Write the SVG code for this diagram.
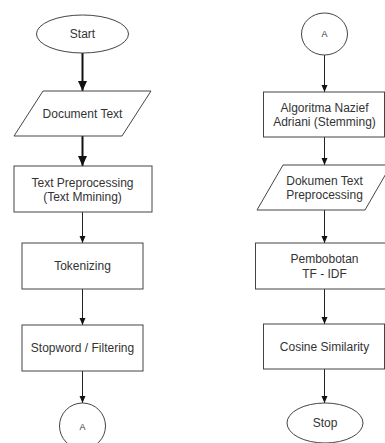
<svg xmlns="http://www.w3.org/2000/svg" width="385" height="443" viewBox="0 0 385 443">
<style>
.s{fill:#fff;stroke:#444;stroke-width:1}
.t{font-family:"Liberation Sans",Arial,sans-serif;font-size:12px;fill:#333;text-anchor:middle;dominant-baseline:central}
.a{font-size:9px}
.c{stroke:#222;stroke-width:1;fill:none}
.ck{stroke:#111;stroke-width:2;fill:none}
</style>
<defs>
<marker id="m" markerUnits="userSpaceOnUse" markerWidth="8" markerHeight="8" refX="7" refY="4" orient="auto">
<path d="M0,1 L7,4 L0,7 z" fill="#111"/>
</marker>
<marker id="mk" markerUnits="userSpaceOnUse" markerWidth="11" markerHeight="11" refX="10" refY="5.5" orient="auto">
<path d="M0,1 L10,5.5 L0,10 z" fill="#111"/>
</marker>
</defs>
<rect width="385" height="443" fill="#fff"/>
<g id="connectors">
<line class="ck" x1="82.5" y1="53" x2="82.5" y2="91" marker-end="url(#mk)"/>
<line class="ck" x1="82.5" y1="136" x2="82.5" y2="166" marker-end="url(#mk)"/>
<line class="c" x1="82.5" y1="212" x2="82.5" y2="243" marker-end="url(#m)"/>
<line class="c" x1="82.5" y1="289" x2="82.5" y2="325" marker-end="url(#m)"/>
<line class="c" x1="82.5" y1="371" x2="82.5" y2="403" marker-end="url(#m)"/>
<line class="c" x1="324.5" y1="55" x2="324.5" y2="92" marker-end="url(#m)"/>
<line class="c" x1="324.5" y1="137" x2="324.5" y2="165" marker-end="url(#m)"/>
<line class="c" x1="324.5" y1="210" x2="324.5" y2="243" marker-end="url(#m)"/>
<line class="c" x1="324.5" y1="289" x2="324.5" y2="324" marker-end="url(#m)"/>
<line class="c" x1="324.5" y1="369" x2="324.5" y2="403" marker-end="url(#m)"/>
</g>
<g id="start">
<ellipse class="s" cx="82.5" cy="34" rx="46" ry="19"/>
<text class="t" x="82.5" y="34">Start</text>
</g>
<g id="document-text">
<polygon class="s" points="43,91 151,91 122,136 14,136"/>
<text class="t" x="82.5" y="114">Document Text</text>
</g>
<g id="text-preprocessing">
<rect class="s" x="14" y="166" width="138" height="46"/>
<text class="t" x="82.5" y="183">Text Preprocessing</text>
<text class="t" x="82.5" y="197">(Text Mmining)</text>
</g>
<g id="tokenizing">
<rect class="s" x="22" y="243" width="121" height="46"/>
<text class="t" x="82.5" y="266">Tokenizing</text>
</g>
<g id="stopword">
<rect class="s" x="22" y="325" width="121" height="46"/>
<text class="t" x="82.5" y="348">Stopword / Filtering</text>
</g>
<g id="connector-a-left">
<ellipse class="s" cx="82.5" cy="426" rx="23" ry="23"/>
<text class="t a" x="82.5" y="427">A</text>
</g>
<g id="connector-a-right">
<ellipse class="s" cx="324.5" cy="34" rx="23" ry="21"/>
<text class="t a" x="324.5" y="34">A</text>
</g>
<g id="algoritma">
<rect class="s" x="263.5" y="92" width="121" height="45"/>
<text class="t" x="324.5" y="108">Algoritma Nazief</text>
<text class="t" x="324.5" y="122">Adriani (Stemming)</text>
</g>
<g id="dokumen-text">
<polygon class="s" points="283,165 391,165 365,210 257,210"/>
<text class="t" x="324.5" y="181">Dokumen Text</text>
<text class="t" x="324.5" y="195">Preprocessing</text>
</g>
<g id="pembobotan">
<rect class="s" x="255.5" y="243" width="138" height="46"/>
<text class="t" x="324.5" y="259">Pembobotan</text>
<text class="t" x="324.5" y="274">TF - IDF</text>
</g>
<g id="cosine">
<rect class="s" x="263.5" y="324" width="121" height="45"/>
<text class="t" x="324.5" y="347">Cosine Similarity</text>
</g>
<g id="stop">
<ellipse class="s" cx="325" cy="423" rx="38" ry="20"/>
<text class="t" x="325" y="423">Stop</text>
</g>
</svg>
